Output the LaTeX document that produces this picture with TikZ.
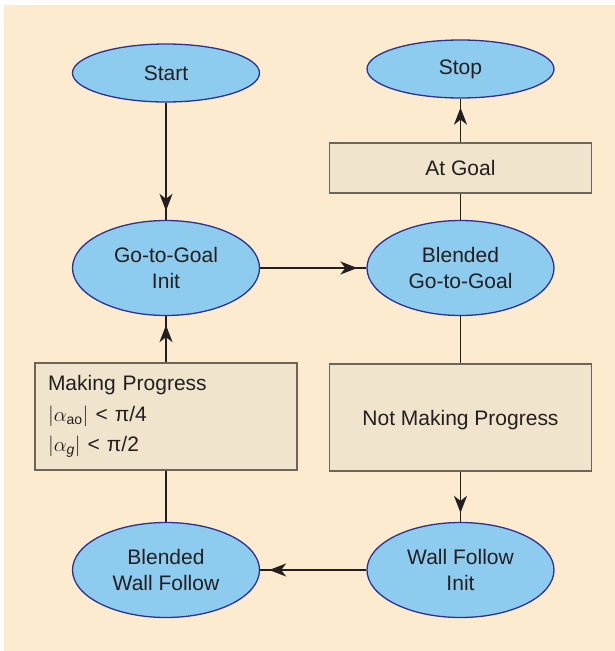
\documentclass[tikz,border=0pt]{standalone}
\usepackage{fontspec}
\setmainfont{Liberation Sans}
\usetikzlibrary{shapes.geometric,arrows.meta,decorations.markings}
\definecolor{bgc}{HTML}{FDEBD0}
\definecolor{ellfill}{HTML}{8DCBEF}
\definecolor{elldraw}{HTML}{2E3192}
\definecolor{boxfill}{HTML}{F0E4CC}
\definecolor{boxdraw}{HTML}{6D6559}
\definecolor{txt}{HTML}{231F20}
\begin{document}
\begin{tikzpicture}[x=1pt,y=-1pt,
 state/.style={ellipse, draw=elldraw, fill=ellfill, line width=1.3pt, inner sep=0pt,
   minimum width=187pt, minimum height=95pt, align=center, text=txt,
   font=\fontsize{21}{26}\selectfont},
 smallstate/.style={state, minimum height=58pt},
 cond/.style={rectangle, draw=boxdraw, fill=boxfill, line width=1.3pt,
   minimum width=262pt, minimum height=50pt, text=txt,
   font=\fontsize{21}{30.5}\selectfont},
 conn/.style={draw=txt, line width=1.9pt},
 arr/.style={conn, postaction={decorate},
   decoration={markings, mark=at position -9pt with {\arrow[txt]{Stealth[length=17pt,width=13pt,inset=5pt]}}}}
]
\fill[bgc] (4,5) rectangle (615,651);
\useasboundingbox (0,0) rectangle (615,651);

\node[smallstate] (start) at (166,73) {Start};
\node[smallstate] (stop) at (460.5,69) {Stop};
\node[state] (gtgi) at (166,268) {Go-to-Goal\\Init};
\node[state] (bgtg) at (460.5,268) {Blended\\Go-to-Goal};
\node[state] (wfi) at (460.5,570) {Wall Follow\\Init};
\node[state] (bwf) at (166,570) {Blended\\Wall Follow};
\node[cond] (atgoal) at (460.5,168) {At Goal};
\node[cond, minimum height=107pt, text depth=0pt, text height=15pt] (nmp) at (460.5,417.5) {Not Making Progress};
\node[cond, minimum height=107pt, text width=236pt, align=left] (mp) at (166,416.5)
  {Making Progress\\
   \(|\alpha_{\mbox{\fontsize{14}{14}\selectfont ao}}|\) < π/4\\
   \(|\alpha_{\mbox{\fontsize{14}{14}\selectfont\itshape g}}|\) < π/2};

\draw[arr] (start) -- (gtgi);
\draw[arr] (gtgi) -- (bgtg);
\draw[conn] (bgtg) -- (atgoal);
\draw[arr] (atgoal) -- (stop);
\draw[conn] (bgtg) -- (nmp);
\draw[arr] (nmp) -- (wfi);
\draw[arr] (wfi) -- (bwf);
\draw[conn] (bwf) -- (mp);
\draw[arr] (mp) -- (gtgi);
\end{tikzpicture}
\end{document}
